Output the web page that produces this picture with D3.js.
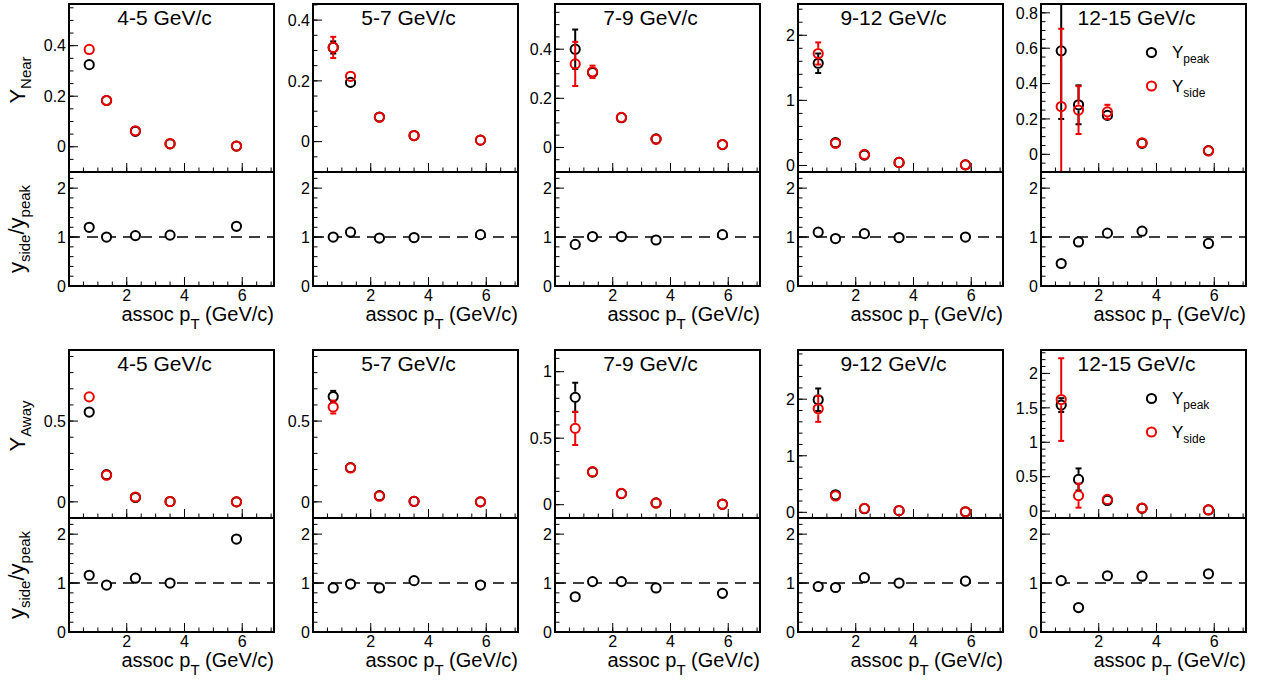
<!DOCTYPE html>
<html><head><meta charset="utf-8">
<script src="https://cdn.jsdelivr.net/npm/d3@7"></script>
<style>body{margin:0;background:#fff}svg{display:block}text{font-family:"Liberation Sans",Arial,Helvetica,sans-serif;fill:#000}</style>
</head><body><svg id="c" width="1266" height="681"></svg>
<script>
// ---------------- data ----------------
const assocPt = [0.7, 1.3, 2.3, 3.5, 5.8];
const trigLabels = ["4-5 GeV/c", "5-7 GeV/c", "7-9 GeV/c", "9-12 GeV/c", "12-15 GeV/c"];
const xTicks = [2, 4, 6];
const ratioTicks = [0, 1, 2];

// near side yields
const nearPeak = [
  [0.325, 0.183, 0.061, 0.0115, 0.0025],
  [0.31, 0.195, 0.081, 0.02, 0.0048],
  [0.40, 0.305, 0.121, 0.035, 0.0115],
  [1.57, 0.35, 0.16, 0.047, 0.01],
  [0.585, 0.28, 0.22, 0.062, 0.021]
];
const nearPeakErr = [
  [0.012, 0.005, 0.003, 0.002, 0.001],
  [0.02, 0.01, 0.004, 0.002, 0.001],
  [0.08, 0.02, 0.006, 0.003, 0.001],
  [0.15, 0.03, 0.015, 0.006, 0.003],
  [0.385, 0.11, 0.025, 0.01, 0.005]
];
const nearSide = [
  [0.385, 0.183, 0.063, 0.012, 0.003],
  [0.31, 0.215, 0.08, 0.02, 0.005],
  [0.34, 0.308, 0.122, 0.033, 0.012],
  [1.72, 0.34, 0.17, 0.047, 0.01],
  [0.27, 0.25, 0.24, 0.065, 0.019]
];
const nearSideErr = [
  [0.022, 0.006, 0.003, 0.002, 0.001],
  [0.035, 0.01, 0.005, 0.002, 0.001],
  [0.09, 0.025, 0.008, 0.003, 0.001],
  [0.17, 0.03, 0.015, 0.006, 0.003],
  [0.44, 0.135, 0.04, 0.012, 0.005]
];
const nearRatio = [
  [1.2, 1.0, 1.03, 1.04, 1.22],
  [1.0, 1.1, 0.98, 0.99, 1.05],
  [0.85, 1.01, 1.01, 0.94, 1.05],
  [1.1, 0.97, 1.07, 0.99, 1.0],
  [0.46, 0.9, 1.08, 1.12, 0.87]
];
const nearDomain = [[-0.1, 0.565], [-0.1, 0.453], [-0.1, 0.584], [-0.1, 2.48], [-0.1, 0.85]];
const nearTicks = [[0, 0.2, 0.4], [0, 0.2, 0.4], [0, 0.2, 0.4], [0, 1, 2], [0, 0.2, 0.4, 0.6, 0.8]];

// away side yields
const awayPeak = [
  [0.556, 0.168, 0.027, 0.002, 0.0],
  [0.652, 0.212, 0.038, 0.003, 0.0],
  [0.807, 0.245, 0.083, 0.013, 0.004],
  [1.99, 0.31, 0.065, 0.03, 0.01],
  [1.54, 0.46, 0.155, 0.04, 0.017]
];
const awayPeakErr = [
  [0.012, 0.008, 0.003, 0.002, 0.001],
  [0.035, 0.01, 0.004, 0.002, 0.001],
  [0.11, 0.02, 0.008, 0.003, 0.002],
  [0.2, 0.05, 0.015, 0.008, 0.004],
  [0.1, 0.16, 0.03, 0.01, 0.005]
];
const awaySide = [
  [0.65, 0.165, 0.03, 0.002, 0.0],
  [0.587, 0.21, 0.035, 0.003, 0.0],
  [0.574, 0.248, 0.085, 0.012, 0.003],
  [1.83, 0.29, 0.07, 0.03, 0.01],
  [1.62, 0.225, 0.17, 0.045, 0.02]
];
const awaySideErr = [
  [0.015, 0.008, 0.003, 0.002, 0.001],
  [0.04, 0.012, 0.005, 0.002, 0.001],
  [0.125, 0.02, 0.008, 0.003, 0.002],
  [0.23, 0.05, 0.015, 0.008, 0.004],
  [0.6, 0.175, 0.03, 0.01, 0.005]
];
const awayRatio = [
  [1.16, 0.96, 1.1, 1.0, 1.9],
  [0.9, 0.98, 0.9, 1.05, 0.96],
  [0.72, 1.03, 1.03, 0.9, 0.79],
  [0.93, 0.91, 1.11, 1.0, 1.04],
  [1.05, 0.5, 1.15, 1.14, 1.19]
];
const awayDomain = [[-0.1, 0.94], [-0.1, 0.94], [-0.1, 1.163], [-0.1, 2.87], [-0.1, 2.34]];
const awayTicks = [[0, 0.5], [0, 0.5], [0, 0.5, 1], [0, 1, 2], [0, 0.5, 1, 1.5, 2]];

const xDomain = [0, 7.1];
const ratioDomain = [0, 2.33];
const legendLabels = [["Y", "peak"], ["Y", "side"]];
const seriesColors = ["#000000", "#ee0000"];

// ---------------- layout ----------------
const colLeft = [69, 313, 555, 798, 1041];
const panelW = 205;
const rowsLayout = [
  {top: 4, mid: 172, bottom: 286, ylabel: "Near", peak: nearPeak, peakErr: nearPeakErr, side: nearSide, sideErr: nearSideErr, ratio: nearRatio, dom: nearDomain, ticks: nearTicks},
  {top: 350, mid: 518, bottom: 632, ylabel: "Away", peak: awayPeak, peakErr: awayPeakErr, side: awaySide, sideErr: awaySideErr, ratio: awayRatio, dom: awayDomain, ticks: awayTicks}
];
const FONT_TICK = 16, FONT_TITLE = 21, FONT_AX = 20;
const R = 4.6, MSW = 2;

const svg = d3.select("#c");
const fmt = d3.format("~g");

function minorStep(step) {
  if (Math.abs(step - 2) < 1e-9) return 0.5;
  if (Math.abs(step - 0.2) < 1e-9) return 0.05;
  return step / 5;
}
function rangeTicks(dom, step) {
  const out = [];
  const s = Math.ceil(dom[0] / step - 1e-9);
  const e = Math.floor(dom[1] / step + 1e-9);
  for (let i = s; i <= e; i++) out.push(+(i * step).toFixed(6));
  return out;
}

let clipId = 0;
function drawYAxis(g, y, x0, majors, dom) {
  const step = majors.length > 1 ? majors[1] - majors[0] : 1;
  const minors = rangeTicks(dom, minorStep(step));
  g.selectAll(null).data(minors).enter().append("line")
    .attr("x1", x0).attr("x2", x0 + 4.5)
    .attr("y1", d => y(d)).attr("y2", d => y(d))
    .attr("stroke", "#000").attr("stroke-width", 1);
  g.selectAll(null).data(majors).enter().append("line")
    .attr("x1", x0).attr("x2", x0 + 9)
    .attr("y1", d => y(d)).attr("y2", d => y(d))
    .attr("stroke", "#000").attr("stroke-width", 1);
  g.selectAll(null).data(majors).enter().append("text")
    .attr("x", x0 - 3).attr("y", d => y(d)).attr("dy", "0.36em")
    .attr("text-anchor", "end").attr("font-size", FONT_TICK)
    .text(d => fmt(d));
}
function drawXTicks(g, x, yb) {
  const minors = rangeTicks(xDomain, 0.5);
  const majors = rangeTicks(xDomain, 2);
  g.selectAll(null).data(minors).enter().append("line")
    .attr("x1", d => x(d)).attr("x2", d => x(d))
    .attr("y1", yb).attr("y2", yb - 4.5)
    .attr("stroke", "#000").attr("stroke-width", 1);
  g.selectAll(null).data(majors).enter().append("line")
    .attr("x1", d => x(d)).attr("x2", d => x(d))
    .attr("y1", yb).attr("y2", yb - 9)
    .attr("stroke", "#000").attr("stroke-width", 1);
}

function drawSeries(g, x, y, vals, errs, color) {
  const pts = assocPt.map((p, i) => ({px: x(p), py: y(vals[i]), hi: y(vals[i] + errs[i]), lo: y(vals[i] - errs[i])}));
  const gap = R + MSW / 2;
  pts.forEach(p => {
    if (p.py - p.hi > gap) {
      g.append("line").attr("x1", p.px).attr("x2", p.px).attr("y1", p.py - gap).attr("y2", p.hi)
        .attr("stroke", color).attr("stroke-width", 2);
      g.append("line").attr("x1", p.px - 3).attr("x2", p.px + 3).attr("y1", p.hi).attr("y2", p.hi)
        .attr("stroke", color).attr("stroke-width", 2);
    }
    if (p.lo - p.py > gap) {
      g.append("line").attr("x1", p.px).attr("x2", p.px).attr("y1", p.py + gap).attr("y2", p.lo)
        .attr("stroke", color).attr("stroke-width", 2);
      g.append("line").attr("x1", p.px - 3).attr("x2", p.px + 3).attr("y1", p.lo).attr("y2", p.lo)
        .attr("stroke", color).attr("stroke-width", 2);
    }
  });
  g.selectAll(null).data(pts).enter().append("circle")
    .attr("cx", d => d.px).attr("cy", d => d.py).attr("r", R)
    .attr("fill", "none").attr("stroke", color).attr("stroke-width", MSW);
}

rowsLayout.forEach((row, ri) => {
  colLeft.forEach((left, ci) => {
    const right = left + panelW;
    const g = svg.append("g");
    const x = d3.scaleLinear().domain(xDomain).range([left, right]);
    const yU = d3.scaleLinear().domain(row.dom[ci]).range([row.mid, row.top]);
    const yL = d3.scaleLinear().domain(ratioDomain).range([row.bottom, row.mid]);

    const cu = "cu" + (clipId++), cl = "cl" + (clipId++);
    const defs = g.append("defs");
    defs.append("clipPath").attr("id", cu).append("rect")
      .attr("x", left).attr("y", row.top).attr("width", panelW).attr("height", row.mid - row.top);
    defs.append("clipPath").attr("id", cl).append("rect")
      .attr("x", left).attr("y", row.mid).attr("width", panelW).attr("height", row.bottom - row.mid);

    drawYAxis(g, yU, left, row.ticks[ci], row.dom[ci]);
    drawYAxis(g, yL, left, ratioTicks, ratioDomain);
    drawXTicks(g, x, row.mid);
    drawXTicks(g, x, row.bottom);

    g.selectAll(null).data(xTicks).enter().append("text")
      .attr("x", d => x(d)).attr("y", row.bottom + 15)
      .attr("text-anchor", "middle").attr("font-size", FONT_TICK)
      .text(d => fmt(d));

    const gu = g.append("g").attr("clip-path", `url(#${cu})`);
    drawSeries(gu, x, yU, row.peak[ci], row.peakErr[ci], seriesColors[0]);
    drawSeries(gu, x, yU, row.side[ci], row.sideErr[ci], seriesColors[1]);

    const gl = g.append("g").attr("clip-path", `url(#${cl})`);
    gl.append("line").attr("x1", left).attr("x2", right)
      .attr("y1", yL(1)).attr("y2", yL(1))
      .attr("stroke", "#000").attr("stroke-width", 1.5).attr("stroke-dasharray", "11,7");
    gl.selectAll(null).data(row.ratio[ci]).enter().append("circle")
      .attr("cx", (d, i) => x(assocPt[i])).attr("cy", d => yL(d)).attr("r", R)
      .attr("fill", "#fff").attr("stroke", "#000").attr("stroke-width", MSW);

    g.append("rect").attr("x", left).attr("y", row.top).attr("width", panelW).attr("height", row.mid - row.top)
      .attr("fill", "none").attr("stroke", "#000").attr("stroke-width", 2);
    g.append("rect").attr("x", left).attr("y", row.mid).attr("width", panelW).attr("height", row.bottom - row.mid)
      .attr("fill", "none").attr("stroke", "#000").attr("stroke-width", 2);

    g.append("text").attr("x", (left + right) / 2 - 7).attr("y", row.top + 21)
      .attr("text-anchor", "middle").attr("font-size", FONT_TITLE).text(trigLabels[ci]);

    const xt = g.append("text").attr("x", right).attr("y", row.bottom + 35)
      .attr("text-anchor", "end").attr("font-size", FONT_AX);
    xt.append("tspan").text("assoc p");
    xt.append("tspan").attr("font-size", 15).attr("dy", 8).text("T");
    xt.append("tspan").attr("dy", -8).text(" (GeV/c)");

    if (ci === colLeft.length - 1) {
      legendLabels.forEach((lab, li) => {
        const ly = row.top + 48.5 + li * 33.5;
        g.append("circle").attr("cx", left + 110.5).attr("cy", ly).attr("r", R)
          .attr("fill", "none").attr("stroke", seriesColors[li]).attr("stroke-width", MSW);
        const t = g.append("text").attr("x", left + 131).attr("y", ly + 5.5).attr("font-size", 17);
        t.append("tspan").text(lab[0]);
        t.append("tspan").attr("font-size", 12).attr("dy", 5).text(lab[1]);
      });
    }
  });

  const yt = svg.append("text").attr("font-size", 22).attr("text-anchor", "middle")
    .attr("transform", `translate(25,${row.top + 76}) rotate(-90)`);
  yt.append("tspan").text("Y");
  yt.append("tspan").attr("font-size", 15).attr("dy", 6).text(row.ylabel);

  const rt = svg.append("text").attr("font-size", 22).attr("text-anchor", "middle")
    .attr("transform", `translate(24,${(row.mid + row.bottom) / 2}) rotate(-90)`);
  rt.append("tspan").text("y");
  rt.append("tspan").attr("font-size", 15).attr("dy", 6).text("side");
  rt.append("tspan").attr("dy", -6).text("/y");
  rt.append("tspan").attr("font-size", 15).attr("dy", 6).text("peak");
});
</script>
</body></html>
